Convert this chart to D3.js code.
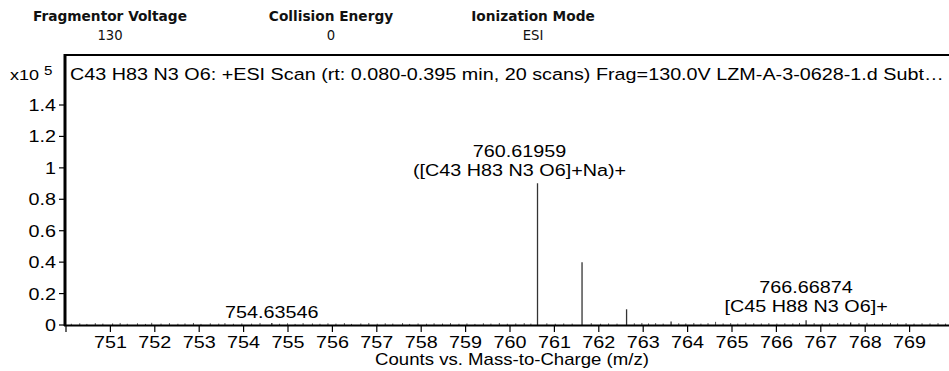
<!DOCTYPE html>
<html><head><meta charset="utf-8">
<script src="https://cdn.jsdelivr.net/npm/d3@7"></script>
<style>html,body{margin:0;padding:0;background:#fff;}svg{display:block;}</style>
</head><body>
<svg id="c" width="949" height="371"></svg>
<script>
// ---------- data ----------
const headerLabels = ["Fragmentor Voltage", "Collision Energy", "Ionization Mode"];
const headerValues = ["130", "0", "ESI"];
const titleText = "C43 H83 N3 O6: +ESI Scan (rt: 0.080-0.395 min, 20 scans) Frag=130.0V LZM-A-3-0628-1.d  Subt\u2026";
const xAxisTitle = "Counts vs. Mass-to-Charge (m/z)";
const xTickValues = [750, 751, 752, 753, 754, 755, 756, 757, 758, 759, 760, 761, 762, 763, 764, 765, 766, 767, 768, 769];
const xTickLabels = ["", "751", "752", "753", "754", "755", "756", "757", "758", "759", "760", "761", "762", "763", "764", "765", "766", "767", "768", "769"];
const yTickValues = [0, 0.2, 0.4, 0.6, 0.8, 1, 1.2, 1.4];
const yTickLabels = ["0", "0.2", "0.4", "0.6", "0.8", "1", "1.2", "1.4"];
// peaks (intensity in x10^5 counts)
const peakMz = [754.63546, 760.61959, 761.6225, 762.6255, 763.628, 766.66874, 767.672];
const peakIntensity = [0.012, 0.902, 0.400, 0.100, 0.022, 0.030, 0.016];
// baseline noise
const noiseMz = [750.12,750.31,750.47,750.66,750.83,751.05,751.22,751.38,751.61,751.79,751.93,752.14,752.33,752.52,752.68,752.87,753.04,753.25,753.44,753.58,753.77,753.96,754.18,754.37,754.81,754.99,755.16,755.34,755.55,755.72,755.9,756.08,756.27,756.43,756.64,756.82,757.01,757.19,757.36,757.58,757.74,757.93,758.12,758.29,758.48,758.66,758.85,759.03,759.21,759.4,759.57,759.76,759.94,760.13,760.32,760.47,760.83,761.02,761.21,761.4,761.83,762.04,762.22,762.41,762.8,762.97,763.12,763.28,763.45,763.8,763.96,764.14,764.3,764.46,764.63,764.8,764.97,765.13,765.31,765.49,765.66,765.83,766.01,766.19,766.37,766.52,766.85,767.03,767.2,767.38,767.52,767.86,768.04,768.21,768.39,768.57,768.73,768.92,769.1,769.28,769.46,769.64,769.81];
const noiseIntensity = [0.008,0.011,0.007,0.012,0.009,0.010,0.013,0.008,0.011,0.007,0.014,0.009,0.012,0.008,0.010,0.013,0.007,0.011,0.009,0.012,0.008,0.010,0.009,0.013,0.008,0.011,0.007,0.012,0.010,0.008,0.011,0.009,0.012,0.007,0.010,0.013,0.008,0.011,0.009,0.012,0.007,0.010,0.008,0.011,0.009,0.012,0.008,0.010,0.007,0.011,0.009,0.013,0.008,0.010,0.012,0.009,0.011,0.008,0.010,0.009,0.012,0.008,0.010,0.009,0.011,0.013,0.010,0.012,0.009,0.011,0.010,0.013,0.009,0.012,0.020,0.010,0.012,0.009,0.014,0.011,0.010,0.012,0.009,0.011,0.010,0.013,0.012,0.009,0.011,0.013,0.010,0.012,0.014,0.009,0.011,0.013,0.010,0.012,0.009,0.011,0.010,0.012,0.009];
// annotations
const annotations = [
  {lines: ["754.63546"], x: 754.63546, dx: 0, baseY: 318},
  {lines: ["760.61959", "([C43 H83 N3 O6]+Na)+"], x: 760.61959, dx: -18, baseY: 157},
  {lines: ["766.66874", "[C45 H88 N3 O6]+"], x: 766.66874, dx: 0, baseY: 293}
];

// ---------- layout ----------
const svg = d3.select("#c");
const plotLeft = 66, plotRight = 954, plotTop = 55, yZero = 325, yTop14 = 105;
const x = d3.scaleLinear().domain([750, 770]).range([plotLeft, plotRight]);
const y = d3.scaleLinear().domain([0, 1.4]).range([yZero, yTop14]);
const FONT = "'Liberation Sans', Arial, sans-serif";
const FS = 17;

// title (fit to width to determine horizontal stretch)
const tmp = svg.append("text").attr("font-family", FONT).attr("font-size", FS).text(titleText);
const natW = tmp.node().getComputedTextLength();
tmp.remove();
const sx = 874 / natW;

function stretchedText(g, txt, tx, ty, anchor, size) {
  return g.append("text")
    .attr("transform", `translate(${tx},${ty}) scale(${sx},1)`)
    .attr("font-family", FONT).attr("font-size", size || FS)
    .attr("text-anchor", anchor || "start").attr("fill", "#000").text(txt);
}

// header
const HFONT = "Tahoma, 'DejaVu Sans Condensed', 'DejaVu Sans', sans-serif";
const HFS = 14;
const tmp2 = svg.append("text").attr("font-family", HFONT).attr("font-weight", "bold").attr("font-size", HFS).text(headerLabels[0]);
const hW = tmp2.node().getComputedTextLength();
tmp2.remove();
const hx = 154 / hW;
const headerCenters = [110, 331, 533];
headerLabels.forEach((lab, i) => {
  svg.append("text").attr("transform", `translate(${headerCenters[i]},21) scale(${hx},1)`)
    .attr("font-family", HFONT).attr("font-weight", "bold").attr("font-size", HFS)
    .attr("text-anchor", "middle").attr("fill", "#111").text(lab);
  svg.append("text").attr("transform", `translate(${headerCenters[i]},40) scale(${hx},1)`)
    .attr("font-family", HFONT).attr("font-size", 13.5)
    .attr("text-anchor", "middle").attr("fill", "#111").text(headerValues[i]);
});

// frame
svg.append("line").attr("x1", 65).attr("x2", 949).attr("y1", plotTop).attr("y2", plotTop).attr("stroke", "#000").attr("stroke-width", 2);
svg.append("line").attr("x1", 65).attr("x2", 65).attr("y1", plotTop - 1).attr("y2", yZero + 1).attr("stroke", "#000").attr("stroke-width", 3);

// title
stretchedText(svg, titleText, 70, 80, "start");
// exponent label
stretchedText(svg, "x10", 10, 80, "start", 15.5);
stretchedText(svg, "5", 44, 75, "start", 13);

// y axis
const gy = svg.append("g");
yTickValues.forEach((v, i) => {
  gy.append("line").attr("x1", 59).attr("x2", 65).attr("y1", y(v)).attr("y2", y(v)).attr("stroke", "#000").attr("stroke-width", 1.2);
  stretchedText(gy, yTickLabels[i], 56, y(v) + 6, "end");
});

// noise
svg.append("g").selectAll("line").data(noiseMz).join("line")
  .attr("x1", d => x(d)).attr("x2", d => x(d))
  .attr("y1", y(0)).attr("y2", (d, i) => y(noiseIntensity[i]))
  .attr("stroke", "#555").attr("stroke-width", 1);

// peaks
svg.append("g").selectAll("line").data(peakMz).join("line")
  .attr("x1", d => x(d)).attr("x2", d => x(d))
  .attr("y1", y(0)).attr("y2", (d, i) => y(peakIntensity[i]))
  .attr("stroke", "#333").attr("stroke-width", 1.3);

// x axis
svg.append("line").attr("x1", 64).attr("x2", 949).attr("y1", yZero + 0.5).attr("y2", yZero + 0.5).attr("stroke", "#000").attr("stroke-width", 2);
const gx = svg.append("g");
xTickValues.forEach((v, i) => {
  gx.append("line").attr("x1", x(v)).attr("x2", x(v)).attr("y1", yZero).attr("y2", yZero + 7).attr("stroke", "#000").attr("stroke-width", 1.2);
  if (xTickLabels[i]) stretchedText(gx, xTickLabels[i], x(v), 348, "middle");
});
stretchedText(svg, xAxisTitle, 512, 365, "middle", 16);

// annotations
annotations.forEach(a => {
  a.lines.forEach((ln, j) => {
    stretchedText(svg, ln, x(a.x) + a.dx, a.baseY + j * 19, "middle");
  });
});
</script>
</body></html>
